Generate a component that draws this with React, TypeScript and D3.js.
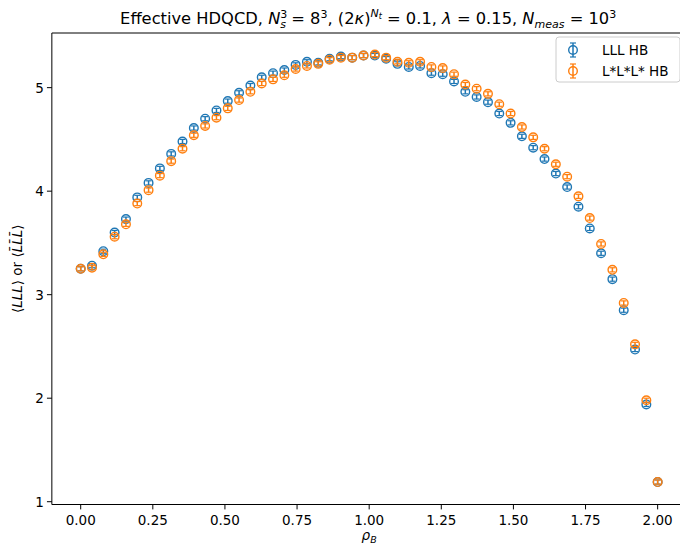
import React from "react";
import * as d3 from "d3";

// rho_B values (52 points from 0 to 2)
const rho = [
  0, 0.0392, 0.0784, 0.1176, 0.1569, 0.1961, 0.2353, 0.2745, 0.3137, 0.3529,
  0.3922, 0.4314, 0.4706, 0.5098, 0.549, 0.5882, 0.6275, 0.6667, 0.7059, 0.7451,
  0.7843, 0.8235, 0.8627, 0.902, 0.9412, 0.9804, 1.0196, 1.0588, 1.098, 1.1373,
  1.1765, 1.2157, 1.2549, 1.2941, 1.3333, 1.3725, 1.4118, 1.451, 1.4902, 1.5294,
  1.5686, 1.6078, 1.6471, 1.6863, 1.7255, 1.7647, 1.8039, 1.8431, 1.8824, 1.9216,
  1.9608, 2.0,
];

// <LLL> HB
const lll = [
  3.25, 3.28, 3.42, 3.6, 3.73, 3.94, 4.08, 4.22, 4.36, 4.48,
  4.61, 4.7, 4.78, 4.87, 4.95, 5.02, 5.1, 5.14, 5.17, 5.22,
  5.25, 5.24, 5.28, 5.3, 5.29, 5.31, 5.31, 5.28, 5.23, 5.2,
  5.21, 5.14, 5.13, 5.06, 4.96, 4.91, 4.86, 4.75, 4.66, 4.53,
  4.42, 4.31, 4.17, 4.04, 3.85, 3.64, 3.4, 3.15, 2.85, 2.47,
  1.94, 1.19,
];

// <L*L*L*> HB
const lstar = [
  3.25, 3.26, 3.39, 3.56, 3.68, 3.88, 4.01, 4.15, 4.29, 4.41,
  4.54, 4.63, 4.71, 4.8, 4.88, 4.96, 5.04, 5.08, 5.12, 5.18,
  5.21, 5.23, 5.27, 5.29, 5.29, 5.31, 5.32, 5.29, 5.25, 5.24,
  5.25, 5.2, 5.19, 5.13, 5.03, 4.99, 4.94, 4.84, 4.75, 4.62,
  4.52, 4.41, 4.26, 4.14, 3.95, 3.74, 3.49, 3.24, 2.92, 2.52,
  1.98, 1.19,
];

const errValue = 0.02;

const xTicks = [0, 0.25, 0.5, 0.75, 1.0, 1.25, 1.5, 1.75, 2.0];
const yTicks = [1, 2, 3, 4, 5];

const seriesNames = ["LLL HB", "L*L*L* HB"];
const seriesColors = ["#1f77b4", "#ff7f0e"];

const W = 680;
const H = 545;
const left = 51.85;
const right = 686.5;
const top = 33;
const bottom = 504.5;

const FONT = "DejaVu Sans, sans-serif";

export default function App() {
  const x = d3.scaleLinear().domain([-0.1, 2.1]).range([left, right]);
  const y = d3.scaleLinear().domain([0.973, 5.528]).range([bottom, top]);

  const series = [lll, lstar];
  const capW = 3;
  const r = 4.3;

  const renderPoint = (cx: number, v: number, color: string, key: string) => {
    const y0 = y(v);
    const y1 = y(v - errValue);
    const y2 = y(v + errValue);
    return (
      <g key={key}>
        <line x1={cx} x2={cx} y1={y1} y2={y2} stroke={color} strokeWidth={1.5} />
        <line x1={cx - capW} x2={cx + capW} y1={y1} y2={y1} stroke={color} strokeWidth={1.2} />
        <line x1={cx - capW} x2={cx + capW} y1={y2} y2={y2} stroke={color} strokeWidth={1.2} />
        <circle cx={cx} cy={y0} r={r} fill="none" stroke={color} strokeWidth={1.4} />
      </g>
    );
  };

  const tickFs = 13.5;

  return (
    <svg
      width={W}
      height={H}
      style={{ position: "absolute", left: 0, top: 0, background: "#fff" }}
      fontFamily={FONT}
    >
      <rect x={0} y={0} width={W} height={H} fill="#fff" />

      {/* data */}
      {series.map((vals, si) => (
        <g key={si}>
          {vals.map((v, i) => renderPoint(x(rho[i]), v, seriesColors[si], `${si}-${i}`))}
        </g>
      ))}

      {/* spines */}
      <line x1={left} x2={left} y1={top} y2={bottom} stroke="#000" strokeWidth={1} />
      <line x1={left} x2={right} y1={bottom} y2={bottom} stroke="#000" strokeWidth={1} />
      <line x1={left} x2={right} y1={top} y2={top} stroke="#000" strokeWidth={1} />
      <line x1={right} x2={right} y1={top} y2={bottom} stroke="#000" strokeWidth={1} />

      {/* x ticks */}
      {xTicks.map((t) => (
        <g key={`xt${t}`}>
          <line x1={x(t)} x2={x(t)} y1={bottom} y2={bottom + 4.9} stroke="#000" strokeWidth={1} />
          <text x={x(t)} y={bottom + 20} textAnchor="middle" fontSize={tickFs} fill="#000">
            {t.toFixed(2)}
          </text>
        </g>
      ))}

      {/* y ticks */}
      {yTicks.map((t) => (
        <g key={`yt${t}`}>
          <line x1={left - 4.9} x2={left} y1={y(t)} y2={y(t)} stroke="#000" strokeWidth={1} />
          <text x={left - 8} y={y(t) + 5} textAnchor="end" fontSize={tickFs} fill="#000">
            {t}
          </text>
        </g>
      ))}

      {/* x label */}
      <text x={(left + right) / 2} y={540} textAnchor="middle" fontSize={13.5} fill="#000">
        <tspan fontStyle="italic">ρ</tspan>
        <tspan fontStyle="italic" fontSize={9.5} dy={3}>B</tspan>
      </text>

      {/* y label */}
      <text
        transform={`translate(22, ${(top + bottom) / 2}) rotate(-90)`}
        textAnchor="middle"
        fontSize={13.5}
        fill="#000"
      >
        <tspan>⟨</tspan>
        <tspan fontStyle="italic">LLL</tspan>
        <tspan>⟩ or ⟨</tspan>
        <tspan fontStyle="italic">{"L\u0304L\u0304L\u0304"}</tspan>
        <tspan>⟩</tspan>
      </text>

      {/* title */}
      <text x={(left + right) / 2 - 1} y={24} textAnchor="middle" fontSize={16.3} fill="#000">
        <tspan>{"Effective HDQCD, "}</tspan>
        <tspan fontStyle="italic">N</tspan>
        <tspan fontSize={11} dy={-6}>3</tspan>
        <tspan fontSize={11} fontStyle="italic" dx={-7} dy={10}>s</tspan>
        <tspan dy={-4}>{" = 8"}</tspan>
        <tspan fontSize={11} dy={-6}>3</tspan>
        <tspan dy={6}>{", (2"}</tspan>
        <tspan fontStyle="italic">κ</tspan>
        <tspan>)</tspan>
        <tspan fontSize={11} fontStyle="italic" dy={-7}>N</tspan>
        <tspan fontSize={8} fontStyle="italic" dy={2}>t</tspan>
        <tspan dy={5}>{" = 0.1, "}</tspan>
        <tspan fontStyle="italic">λ</tspan>
        <tspan>{" = 0.15, "}</tspan>
        <tspan fontStyle="italic">N</tspan>
        <tspan fontSize={11} fontStyle="italic" dy={4}>meas</tspan>
        <tspan dy={-4}>{" = 10"}</tspan>
        <tspan fontSize={11} dy={-6}>3</tspan>
      </text>

      {/* legend */}
      <g>
        <rect x={556} y={37} width={124} height={45} rx={3} fill="#fff" fillOpacity={0.8} stroke="#cccccc" strokeWidth={1} />
        {seriesNames.map((name, i) => {
          const ly = 50 + i * 21;
          const lx = 573;
          const c = seriesColors[i];
          return (
            <g key={name}>
              <line x1={lx} x2={lx} y1={ly - 7} y2={ly + 7} stroke={c} strokeWidth={1.5} />
              <line x1={lx - capW} x2={lx + capW} y1={ly - 7} y2={ly - 7} stroke={c} strokeWidth={1.2} />
              <line x1={lx - capW} x2={lx + capW} y1={ly + 7} y2={ly + 7} stroke={c} strokeWidth={1.2} />
              <circle cx={lx} cy={ly} r={r} fill="none" stroke={c} strokeWidth={1.4} />
              <text x={602} y={ly + 5} fontSize={13.5} fill="#000">{name}</text>
            </g>
          );
        })}
      </g>
    </svg>
  );
}
